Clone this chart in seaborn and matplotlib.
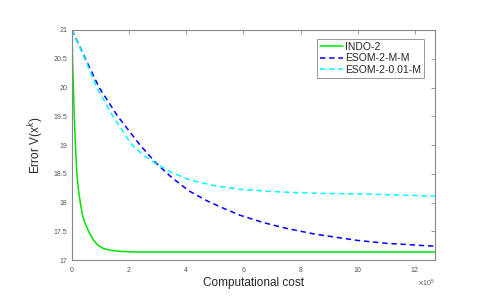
import numpy as np
import pandas as pd
import matplotlib
matplotlib.use("Agg")
import matplotlib.pyplot as plt
import matplotlib.ticker as mticker
import seaborn as sns

# values (x in units of 1e5)
indo_x = [0, 0.02, 0.05, 0.08, 0.12, 0.17, 0.22, 0.29, 0.36, 0.45, 0.58, 0.72, 0.9,
          1.1, 1.35, 1.7, 2.2, 3.0, 12.7]
indo_y = [21, 20.5, 20.0, 19.5, 19.0, 18.5, 18.25, 18.0, 17.8, 17.65, 17.5, 17.37, 17.26,
          17.2, 17.17, 17.15, 17.14, 17.14, 17.14]

esom_mm_x = [0, 0.47, 0.95, 1.6, 2.38, 2.95, 3.5, 4.1, 4.72, 5.3, 5.87, 6.7, 7.5, 8.5,
             10.0, 11.0, 12.0, 12.7]
esom_mm_y = [21, 20.5, 20.0, 19.5, 19.0, 18.68, 18.43, 18.2, 18.03, 17.9, 17.78, 17.65,
             17.55, 17.45, 17.34, 17.29, 17.26, 17.24]

esom_001_x = [0, 0.45, 0.87, 1.43, 2.1, 2.5, 2.95, 3.5, 4.13, 5.0, 5.87, 7.0, 8.5,
              10.0, 11.5, 12.7]
esom_001_y = [21, 20.5, 20.0, 19.5, 19.0, 18.82, 18.67, 18.52, 18.39, 18.29, 18.23, 18.19,
              18.16, 18.15, 18.13, 18.11]

labels = ["INDO-2", "ESOM-2-M-M", "ESOM-2-0.01-M"]
colors = ["#00e600", "#0000ff", "#00ffff"]
dash_styles = [None, (3.5, 2.5), (3.5, 2.5)]

sns.set_style("white")
plt.rcParams["font.family"] = ["Liberation Sans", "DejaVu Sans"]

fig = plt.figure(figsize=(4.91, 3.0), dpi=100)
ax = fig.add_axes([0.1466, 0.1333, 0.7394, 0.7667])

series = [(indo_x, indo_y), (esom_mm_x, esom_mm_y), (esom_001_x, esom_001_y)]
for (xs, ys), lab, col, ds in zip(series, labels, colors, dash_styles):
    df = pd.DataFrame({"x": np.array(xs) * 1e5, "y": ys})
    line_ax = sns.lineplot(data=df, x="x", y="y", ax=ax, color=col,
                           linewidth=1.1, label=lab, sort=False)
    if ds is not None:
        line_ax.lines[-1].set_dashes(ds)

ax.set_xlim(0, 12.7e5)
ax.set_ylim(17, 21)
ax.set_yticks(np.arange(17, 21.01, 0.5))
ax.yaxis.set_major_formatter(mticker.FuncFormatter(lambda v, p: "%g" % v))
fmt = mticker.ScalarFormatter(useMathText=True)
fmt.set_powerlimits((5, 5))
ax.xaxis.set_major_formatter(fmt)
ax.set_xticks(np.arange(0, 12.1e5, 2e5))
ax.xaxis.get_offset_text().set_fontsize(5)
ax.xaxis.get_offset_text().set_color("#555555")

for sp in ax.spines.values():
    sp.set_color("#888888")
    sp.set_linewidth(0.8)
ax.tick_params(direction="in", length=3, width=0.6, colors="#888888",
               labelsize=5, labelcolor="#555555", top=True, right=True)

ax.set_xlabel("Computational cost", fontsize=8.5, labelpad=2)
ax.set_ylabel("Error V(x$^k$)", fontsize=8.5, labelpad=6)

leg = ax.legend(loc="upper right", fontsize=7.5, handlelength=2.2, handletextpad=0.2,
                borderpad=0.3, labelspacing=0.15, fancybox=False, framealpha=1,
                bbox_to_anchor=(0.985, 0.985))
leg.get_frame().set_edgecolor("#888888")
leg.get_frame().set_linewidth(0.6)

fig.savefig("out.png", dpi=100)
